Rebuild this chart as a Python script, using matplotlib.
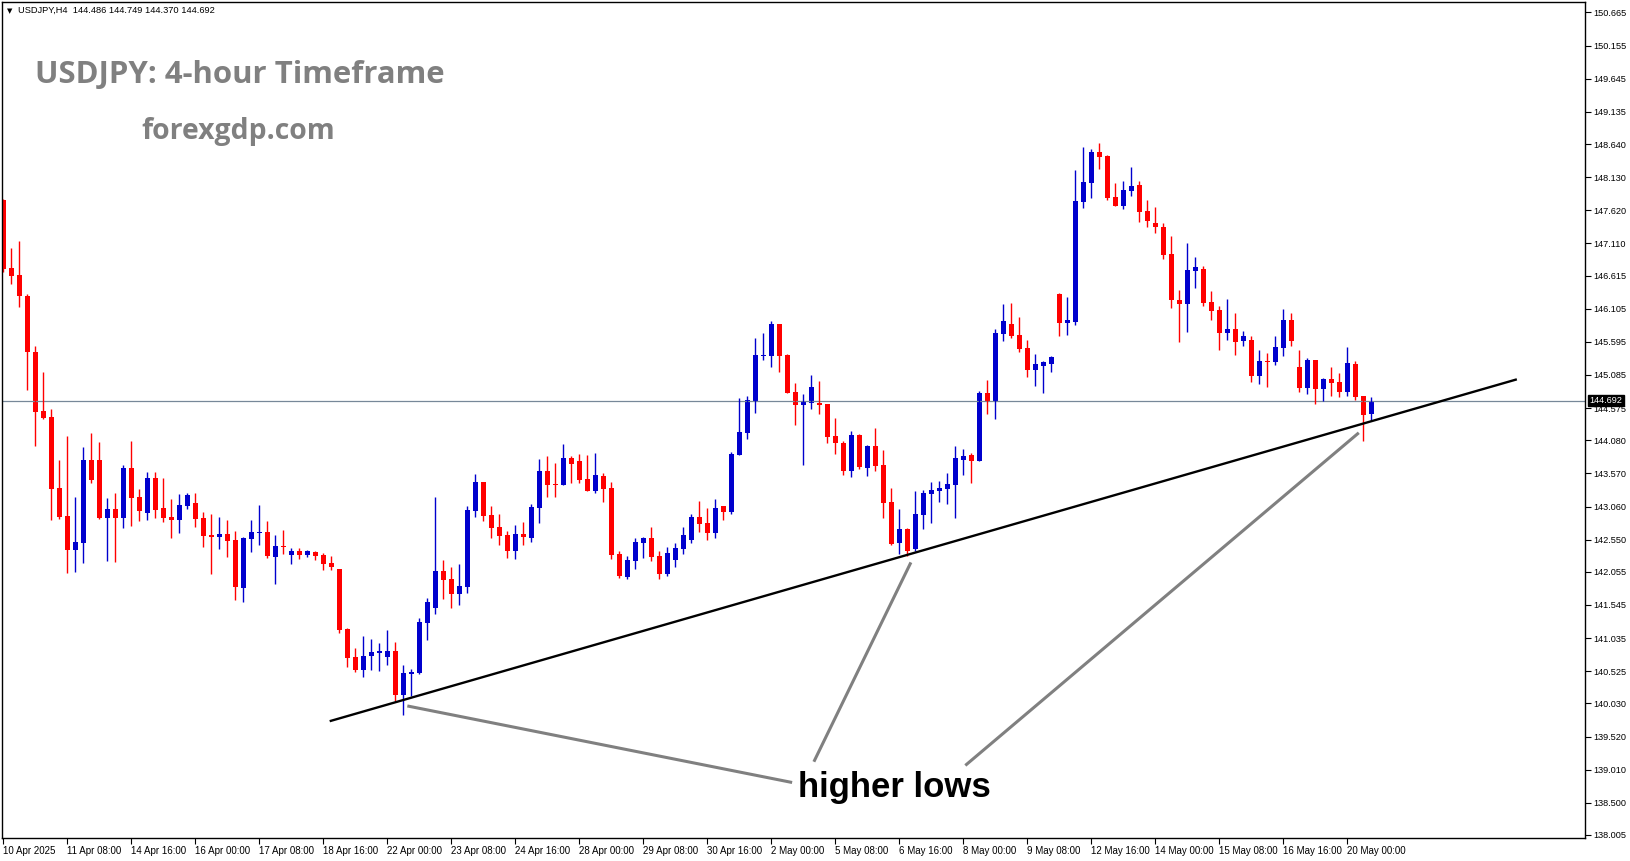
import matplotlib
matplotlib.use("Agg")
import matplotlib.pyplot as plt
import numpy as np

# USDJPY H4 candles, 10 Apr 2025 -> 20 May 2025
opens = [147.778, 146.726, 146.619, 146.300, 145.438, 144.530, 144.438, 143.345, 142.914, 142.391,
         142.503, 143.776, 143.776, 142.888, 143.022, 142.888, 143.653, 143.206, 142.965, 143.499,
         143.037, 142.899, 142.857, 143.073, 143.114, 142.883, 142.621, 142.596, 142.637, 142.545,
         141.811, 142.565, 142.653, 142.668, 142.288, 142.452, 142.314, 142.376, 142.314, 142.360,
         142.314, 142.191, 142.098, 141.175, 140.744, 140.544, 140.759, 140.811, 140.744, 140.836,
         140.159, 140.482, 140.498, 141.267, 141.498, 142.068, 141.944, 141.714, 141.827, 142.996,
         143.438, 142.930, 142.745, 142.622, 142.381, 142.637, 142.581, 143.043, 143.607, 143.407,
         143.391, 143.807, 143.761, 143.484, 143.299, 143.530, 143.345, 142.329, 141.975, 142.222,
         142.499, 142.576, 142.299, 142.021, 142.237, 142.400, 142.550, 142.900, 142.807, 142.653,
         143.069, 142.977, 143.854, 144.193, 144.685, 145.378, 145.378, 145.871, 145.393, 144.824,
         144.624, 144.655, 144.655, 144.639, 144.147, 144.039, 143.608, 144.162, 143.654, 143.993,
         143.700, 143.130, 142.505, 142.715, 142.406, 142.930, 143.253, 143.299, 143.330, 143.391,
         143.776, 143.853, 143.761, 144.808, 144.669, 145.716, 145.870, 145.700, 145.500, 145.162,
         145.223, 145.254, 146.332, 145.885, 145.901, 147.748, 148.040, 148.517, 148.456, 147.825,
         147.686, 147.917, 148.009, 147.609, 147.424, 147.363, 146.947, 146.239, 146.178, 146.686,
         146.716, 146.208, 146.085, 145.731, 145.793, 145.608, 145.624, 145.069, 145.300, 145.285,
         145.500, 145.931, 145.208, 144.885, 145.316, 144.869, 145.023, 144.977, 144.823, 145.254,
         144.761, 144.486]
highs = [147.790, 147.034, 147.147, 146.326, 145.531, 145.131, 144.561, 143.776, 144.145, 143.212,
         143.981, 144.192, 144.053, 143.191, 143.268, 143.699, 144.068, 143.330, 143.591, 143.591,
         143.499, 143.176, 143.253, 143.268, 143.268, 142.976, 142.945, 142.899, 142.857, 142.688,
         142.596, 142.853, 143.084, 142.837, 142.622, 142.699, 142.422, 142.422, 142.391, 142.376,
         142.345, 142.299, 142.098, 141.190, 140.882, 141.067, 141.021, 140.959, 141.160, 140.975,
         140.621, 140.559, 141.344, 141.652, 143.207, 142.237, 142.129, 142.175, 143.068, 143.561,
         143.438, 143.068, 142.945, 142.683, 142.776, 142.822, 143.099, 143.792, 143.838, 143.730,
         144.023, 143.838, 143.869, 143.853, 143.884, 143.576, 143.438, 142.376, 142.299, 142.576,
         142.591, 142.745, 142.376, 142.437, 142.499, 142.750, 142.946, 143.146, 143.038, 143.177,
         143.069, 143.900, 144.732, 144.762, 145.655, 145.732, 145.917, 145.871, 145.409, 144.962,
         144.793, 145.086, 144.993, 144.639, 144.424, 144.070, 144.224, 144.177, 144.008, 144.270,
         143.931, 143.346, 143.023, 142.730, 143.299, 143.315, 143.438, 143.453, 143.576, 143.992,
         143.946, 143.884, 144.838, 145.008, 145.793, 146.177, 146.193, 145.977, 145.623, 145.408,
         145.300, 145.377, 146.347, 146.285, 148.240, 148.594, 148.564, 148.656, 148.471, 148.045,
         148.071, 148.286, 148.071, 147.779, 147.671, 147.424, 147.224, 146.393, 147.117, 146.901,
         146.763, 146.378, 146.147, 146.255, 146.039, 145.762, 145.685, 145.469, 145.423, 145.685,
         146.101, 146.039, 145.469, 145.347, 145.316, 145.039, 145.208, 145.116, 145.516, 145.300,
         144.761, 144.749]
lows = [146.675, 146.490, 146.136, 144.854, 143.997, 144.407, 142.852, 142.873, 142.042, 142.057,
        142.196, 143.427, 142.873, 142.226, 142.211, 142.734, 142.765, 142.842, 142.857, 142.888,
        142.827, 142.580, 142.657, 143.027, 142.750, 142.442, 142.026, 142.411, 142.288, 141.621,
        141.596, 142.365, 142.468, 142.273, 141.868, 142.329, 142.175, 142.252, 142.283, 142.237,
        142.083, 142.083, 141.113, 140.590, 140.513, 140.436, 140.544, 140.528, 140.621, 140.067,
        139.851, 140.143, 140.482, 141.005, 141.406, 141.637, 141.498, 141.544, 141.734, 142.904,
        142.843, 142.581, 142.473, 142.273, 142.257, 142.473, 142.519, 142.812, 143.212, 143.212,
        143.391, 143.422, 143.422, 143.299, 143.268, 143.130, 142.252, 141.960, 141.944, 142.098,
        142.268, 142.222, 141.944, 141.991, 142.129, 142.330, 142.500, 142.669, 142.546, 142.577,
        142.853, 142.946, 143.854, 144.100, 144.501, 145.316, 145.209, 145.132, 144.808, 144.316,
        143.700, 144.562, 144.485, 144.039, 143.870, 143.546, 143.515, 143.639, 143.531, 143.608,
        142.884, 142.474, 142.335, 142.298, 142.376, 142.714, 142.806, 143.130, 143.099, 142.884,
        143.545, 143.422, 143.761, 144.484, 144.407, 145.608, 145.654, 145.439, 145.054, 144.915,
        144.808, 145.131, 145.685, 145.700, 145.854, 147.655, 147.809, 148.256, 147.779, 147.686,
        147.640, 147.840, 147.440, 147.363, 147.270, 146.870, 146.116, 145.593, 145.747, 146.424,
        146.147, 145.931, 145.469, 145.624, 145.393, 145.531, 144.977, 144.946, 144.900, 145.239,
        145.377, 145.531, 144.823, 144.792, 144.638, 144.685, 144.761, 144.746, 144.761, 144.700,
        144.069, 144.370]
closes = [146.711, 146.613, 146.306, 145.444, 144.520, 144.428, 143.335, 142.904, 142.391, 142.514,
          143.776, 143.468, 142.883, 143.022, 142.888, 143.653, 143.196, 142.991, 143.499, 143.011,
          142.888, 142.857, 143.083, 143.237, 142.873, 142.611, 142.596, 142.637, 142.534, 141.826,
          142.576, 142.668, 142.668, 142.299, 142.452, 142.437, 142.376, 142.314, 142.376, 142.299,
          142.175, 142.129, 141.160, 140.728, 140.544, 140.759, 140.821, 140.836, 140.836, 140.159,
          140.498, 140.513, 141.283, 141.591, 142.068, 141.929, 141.714, 141.837, 143.007, 143.438,
          142.919, 142.735, 142.612, 142.381, 142.637, 142.596, 143.053, 143.607, 143.391, 143.391,
          143.807, 143.720, 143.468, 143.299, 143.545, 143.330, 142.314, 141.991, 142.237, 142.514,
          142.576, 142.283, 142.021, 142.345, 142.422, 142.620, 142.900, 142.792, 142.653, 143.038,
          142.977, 143.870, 144.208, 144.701, 145.393, 145.393, 145.871, 145.378, 144.808, 144.624,
          144.670, 144.901, 144.624, 144.131, 144.039, 143.608, 144.162, 143.669, 143.993, 143.685,
          143.115, 142.489, 142.715, 142.381, 142.945, 143.268, 143.315, 143.345, 143.407, 143.807,
          143.838, 143.761, 144.808, 144.669, 145.731, 145.916, 145.685, 145.485, 145.162, 145.254,
          145.285, 145.362, 145.885, 145.931, 147.763, 148.056, 148.517, 148.440, 147.809, 147.686,
          147.932, 147.994, 147.594, 147.455, 147.363, 146.932, 146.239, 146.178, 146.701, 146.747,
          146.193, 146.070, 145.731, 145.793, 145.593, 145.685, 145.069, 145.300, 145.285, 145.516,
          145.931, 145.608, 144.885, 145.316, 144.869, 145.023, 144.962, 144.823, 145.269, 144.746,
          144.469, 144.692]

date_labels = ["10 Apr 2025", "11 Apr 08:00", "14 Apr 16:00", "16 Apr 00:00", "17 Apr 08:00",
               "18 Apr 16:00", "22 Apr 00:00", "23 Apr 08:00", "24 Apr 16:00", "28 Apr 00:00",
               "29 Apr 08:00", "30 Apr 16:00", "2 May 00:00", "5 May 08:00", "6 May 16:00",
               "8 May 00:00", "9 May 08:00", "12 May 16:00", "14 May 00:00", "15 May 08:00",
               "16 May 16:00", "20 May 00:00"]
price_ticks = [150.665, 150.155, 149.645, 149.135, 148.640, 148.130, 147.620, 147.110, 146.615,
               146.105, 145.595, 145.085, 144.575, 144.080, 143.570, 143.060, 142.550, 142.055,
               141.545, 141.035, 140.525, 140.030, 139.520, 139.010, 138.500, 138.005]
last_price = 144.692

# trendline and "higher lows" pointers (bar index, price)
trend = [(40.94, 139.761), (189.04, 145.013)]
pointers = [[(50.69, 139.986), (98.41, 138.817)],
            [(113.36, 142.179), (101.40, 139.153)],
            [(169.28, 144.180), (120.39, 139.090)]]

W, H = 1631, 861
fig = plt.figure(figsize=(W / 100, H / 100), dpi=100)
ax = fig.add_axes([2 / W, (H - 838) / H, (1585 - 2) / W, (838 - 2) / H])

o = np.array(opens)
hi = np.array(highs)
lo = np.array(lows)
c = np.array(closes)
x = np.arange(len(o))
cols = np.where(c >= o, "#0000cd", "#ff0000")

ax.vlines(x, lo, hi, colors=cols, linewidth=1.0)
body = np.maximum(np.abs(c - o), 0.012)
ax.bar(x, body, bottom=np.minimum(o, c), width=0.62, color=cols, linewidth=0)

ax.axhline(last_price, color="#778899", lw=0.9, zorder=1)

ax.plot([p[0] for p in trend], [p[1] for p in trend], color="black", lw=1.7, zorder=4)
for seg in pointers:
    ax.plot([p[0] for p in seg], [p[1] for p in seg], color="#808080", lw=2.2, zorder=4)

ax.set_xlim(-0.16, 197.7)
ax.set_ylim(137.958, 150.826)

ax.yaxis.tick_right()
ax.set_yticks(price_ticks)
ax.set_yticklabels([f"{v:.3f}" for v in price_ticks])
ax.tick_params(axis="y", length=4, width=0.8, pad=2, labelsize=6.6, colors="black")
ax.set_xticks(np.arange(0, 8 * len(date_labels), 8))
ax.set_xticklabels(date_labels)
ax.tick_params(axis="x", length=4, width=0.8, pad=1.5, labelsize=7)
for lab in ax.get_xticklabels():
    lab.set_horizontalalignment("left")
    lab.set_fontfamily("Liberation Sans")
for lab in ax.get_yticklabels():
    lab.set_fontfamily("Liberation Sans")
for sp in ax.spines.values():
    sp.set_color("black")
    sp.set_linewidth(1.0)

ax.text(1.003, last_price, f"{last_price:.3f}", transform=ax.get_yaxis_transform(),
        ha="left", va="center", color="white", fontsize=6.6, family="Liberation Sans",
        bbox=dict(boxstyle="square,pad=0.15", fc="black", ec="black"), zorder=10, clip_on=False)

fig.text(7 / W, 1 - 11.5 / H, "\u25bc", fontsize=5, color="black", va="center")
fig.text(18 / W, 1 - 13.3 / H, "USDJPY,H4  144.486 144.749 144.370 144.692",
         fontsize=6.7, family="Liberation Sans", va="baseline")
fig.text(35 / W, 1 - 83.3 / H, "USDJPY: 4-hour Timeframe", fontsize=22.4,
         family="Open Sans", weight="bold", color="#808080", va="baseline")
fig.text(141 / W, 1 - 138.5 / H, "forexgdp.com", fontsize=20.4,
         family="Open Sans", weight="bold", color="#808080", va="baseline")
fig.text(798 / W, 1 - 797 / H, "higher lows", fontsize=25, family="Liberation Sans",
         weight="bold", color="black", va="baseline")

fig.savefig("out.png", dpi=100)
